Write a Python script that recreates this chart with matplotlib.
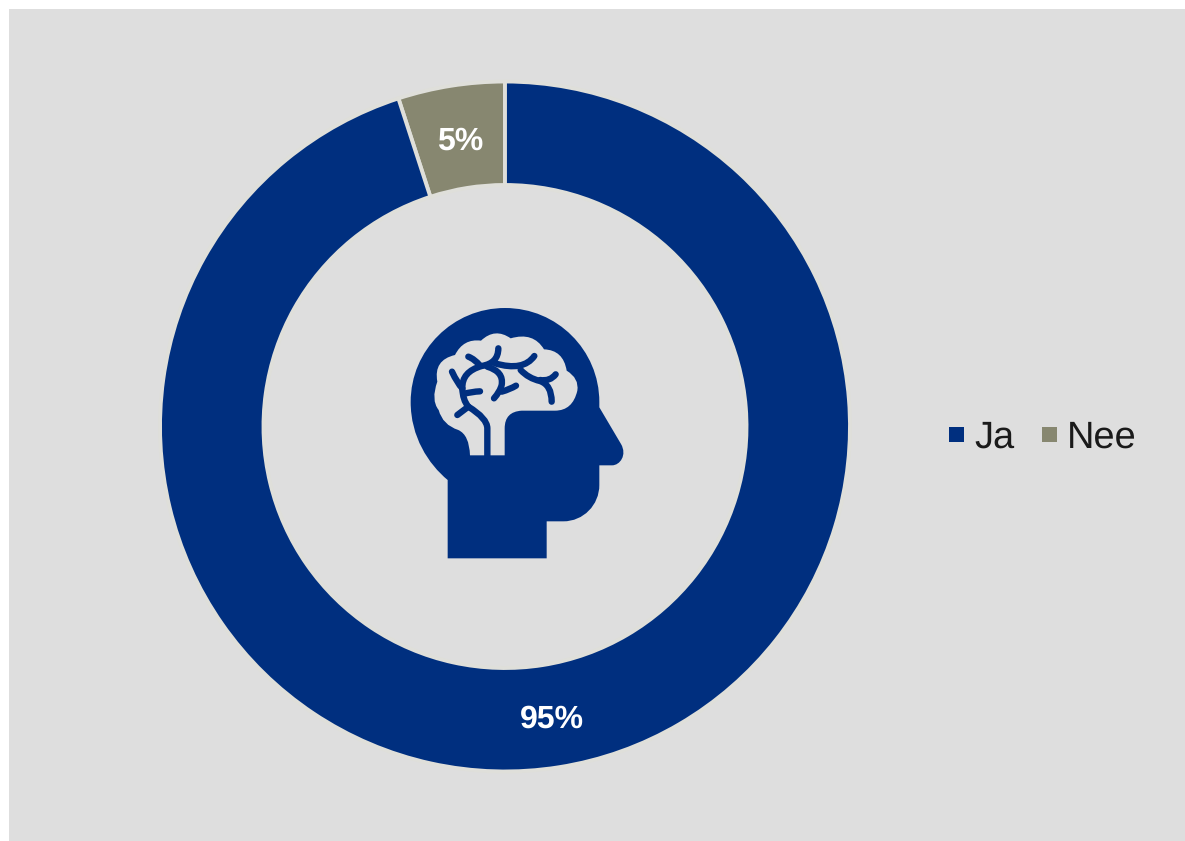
import matplotlib
matplotlib.use("Agg")
import matplotlib.pyplot as plt
from matplotlib.patches import Rectangle, PathPatch, Patch
from matplotlib.path import Path

categories = ["Ja", "Nee"]
values = [95, 5]
value_labels = ["95%", "5%"]
colors = ["#002F7F", "#878770"]
BG = "#DEDEDE"
W, H = 1185, 841
plt.rcParams["font.family"] = ["Liberation Sans", "DejaVu Sans"]
plt.rcParams["text.hinting"] = "no_hinting"
plt.rcParams["text.hinting_factor"] = 1

fig = plt.figure(figsize=(W / 100, H / 100), dpi=100, facecolor="white")

# full-figure pixel overlay
bg = fig.add_axes([0, 0, 1, 1], zorder=0)
bg.set_xlim(0, W); bg.set_ylim(H, 0); bg.axis("off")
bg.add_patch(Rectangle((9, 9), W - 9, H - 9, fc=BG, ec="none"))

# donut
cx, cy, R = 505, 426.5, 345
ax = fig.add_axes([(cx - R) / W, 1 - (cy + R) / H, 2 * R / W, 2 * R / H], zorder=1)
ax.pie(values[::-1], colors=colors[::-1], startangle=90, radius=1, counterclock=True,
       wedgeprops=dict(width=103.5 / R, edgecolor="#DFDFDA", linewidth=2.8))
ax.set_xlim(-1, 1); ax.set_ylim(-1, 1); ax.set_aspect("equal")

# value labels
ov = fig.add_axes([0, 0, 1, 1], zorder=2)
ov.set_xlim(0, W); ov.set_ylim(H, 0); ov.axis("off"); ov.patch.set_alpha(0)
ov.text(551.5, 719, value_labels[0], color="white", fontsize=23, fontweight="bold", ha="center", va="center")
ov.text(460, 141, value_labels[1], color="white", fontsize=23, fontweight="bold", ha="center", va="center")


# icon: zoom-crop coordinates -> pixels
def Z(x, y):
    return (400 + x / 3, 300 + y / 3)


def build(start, segs, close=False):
    v = [Z(*start)]
    c = [Path.MOVETO]
    for s in segs:
        if len(s) == 1:
            v.append(Z(*s[0])); c.append(Path.LINETO)
        elif len(s) == 2:
            v += [Z(*s[0]), Z(*s[1])]; c += [Path.CURVE3] * 2
        else:
            v += [Z(*s[0]), Z(*s[1]), Z(*s[2])]; c += [Path.CURVE4] * 3
    if close:
        v.append(v[0]); c.append(Path.CLOSEPOLY)
    return Path(v, c)


head = build((143, 775), [
    ((143, 540),),
    ((85, 492), (32, 410), (32, 306)),
    ((32, 150), (159, 24), (315, 24)),
    ((471, 24), (598, 150), (598, 306)),
    ((598, 322),),
    ((663, 432),),
    ((682, 465), (660, 496), (636, 496)),
    ((598, 496),),
    ((598, 555),),
    ((598, 615), (550, 664), (490, 664)),
    ((440, 664),),
    ((440, 775),),
], close=True)
ov.add_patch(PathPatch(head, fc=colors[0], ec="none"))

brain = build((210, 466), [
    ((208, 405), (175, 390)),
    ((128, 375), (116, 330)),
    ((92, 300), (112, 245)),
    ((100, 180), (165, 165)),
    ((190, 115), (243, 122)),
    ((285, 82), (332, 115)),
    ((400, 95), (432, 148)),
    ((490, 150), (500, 212)),
    ((538, 235), (532, 272)),
    ((518, 332), (465, 332)),
    ((365, 332),),
    ((314, 335), (314, 385)),
    ((314, 466),),
    ((271, 466),),
    ((254, 466),),
], close=True)
ov.add_patch(PathPatch(brain, fc=BG, ec="none"))

veins = [
    ((262, 470), [((262, 385),), ((262, 355), (205, 320)), ((188, 300), (187, 265)), ((172, 250), (156, 215))]),
    ((172, 345), [((205, 320),)]),
    ((190, 282), [((215, 275), (240, 274))]),
    ((187, 265), [((185, 215), (245, 198)), ((295, 190), (295, 145))]),
    ((205, 170), [((225, 178), (240, 197))]),
    ((262, 200), [((312, 215), (305, 255)), ((300, 275), (282, 295))]),
    ((305, 275), [((330, 268), (348, 257))]),
    ((285, 190), [((370, 215), (403, 168))]),
    ((362, 210), [((385, 235), (420, 243)), ((455, 255), (455, 305))]),
    ((420, 240), [((450, 245), (467, 223))]),
]
for start, segs in veins:
    ov.add_patch(PathPatch(build(start, segs), fc="none", ec=colors[0], lw=4.6, capstyle="round", joinstyle="round"))

handles = [Patch(fc=c, ec="none") for c in colors]
fig.legend(handles, categories, loc="center left", bbox_to_anchor=(949 / W, 1 - 438 / H),
           ncol=2, frameon=False, fontsize=27, labelcolor="#1A1A1A",
           handlelength=0.4, handleheight=0.25, handletextpad=0.28, columnspacing=0.72,
           borderpad=0, borderaxespad=0)
fig.savefig("out.png", dpi=100, facecolor="white")
